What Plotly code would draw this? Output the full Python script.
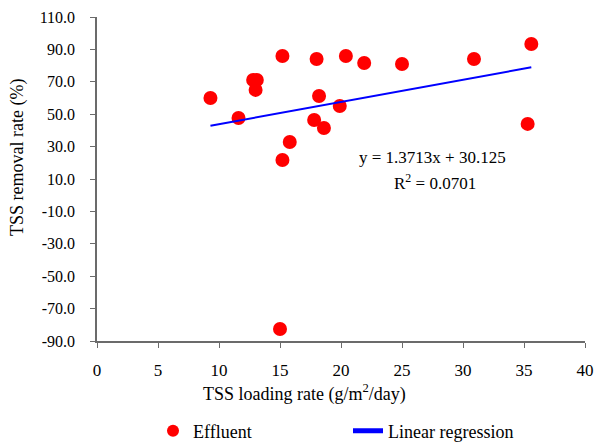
import plotly.graph_objects as go

# Data
loading_rate = [9.3, 11.6, 12.8, 13.1, 13.0, 15.2, 15.8, 15.2, 15.0, 18.0,
                18.2, 17.8, 18.6, 19.9, 20.4, 21.9, 25.0, 30.9, 35.6, 35.3]
removal_rate = [60.0, 47.7, 71.1, 71.1, 65.0, 85.9, 32.8, 21.7, -82.6, 84.1,
                61.2, 46.4, 41.5, 55.1, 85.9, 81.6, 81.0, 84.1, 93.3, 44.0]
slope = 1.3713
intercept = 30.125
r_squared = 0.0701
x_ticks = [0, 5, 10, 15, 20, 25, 30, 35, 40]
y_ticks = [-90, -70, -50, -30, -10, 10, 30, 50, 70, 90, 110]

x_fit = [min(loading_rate), max(loading_rate)]
y_fit = [slope * x + intercept for x in x_fit]

FONT = "Liberation Serif"
AXIS_COLOR = "#6b6b6b"

fig = go.Figure()
fig.add_trace(go.Scatter(
    x=loading_rate, y=removal_rate, mode="markers", name="Effluent",
    marker=dict(color="#FF0000", size=14),
))
fig.add_trace(go.Scatter(
    x=x_fit, y=y_fit, mode="lines", name="Linear regression",
    line=dict(color="#0000FF", width=2),
))

fig.update_layout(
    width=594, height=442,
    margin=dict(l=97, r=9, t=17, b=101, autoexpand=False),
    paper_bgcolor="white", plot_bgcolor="white",
    font=dict(family=FONT, size=16, color="black"),
    showlegend=True,
    legend=dict(
        orientation="h", xref="container", x=153 / 594, xanchor="left",
        yref="container", y=(442 - 431) / 442, yanchor="middle",
        entrywidth=150, entrywidthmode="pixels",
        font=dict(family=FONT, size=18), bgcolor="rgba(0,0,0,0)",
        itemsizing="constant",
    ),
    xaxis=dict(
        range=[0, 40], tickvals=x_ticks, ticktext=[str(v) for v in x_ticks],
        showgrid=False, zeroline=False, showline=True, linecolor=AXIS_COLOR,
        linewidth=1.5, ticks="outside", ticklen=5, tickcolor=AXIS_COLOR,
        tickfont=dict(family=FONT, size=17), ticklabelstandoff=8,
    ),
    yaxis=dict(
        range=[-90, 110], tickvals=y_ticks, ticktext=[f"{v:.1f}" for v in y_ticks],
        showgrid=False, zeroline=False, showline=True, linecolor=AXIS_COLOR,
        linewidth=1.5, ticks="outside", ticklen=5, tickcolor=AXIS_COLOR,
        tickfont=dict(family=FONT, size=16), ticklabelstandoff=12,
    ),
    annotations=[
        dict(text="TSS loading rate (g/m<sup>2</sup>/day)", xref="paper", yref="paper",
             x=(304 - 97) / 488, y=(341 - 393) / 324, showarrow=False,
             xanchor="center", yanchor="middle", font=dict(family=FONT, size=18)),
        dict(text="TSS removal rate (%)", xref="paper", yref="paper",
             x=(17 - 97) / 488, y=(341 - 158) / 324, showarrow=False, textangle=-90,
             xanchor="center", yanchor="middle", font=dict(family=FONT, size=18)),
        dict(text=f"y = {slope}x + {intercept}", xref="paper", yref="paper",
             x=(432 - 97) / 488, y=(341 - 157) / 324, showarrow=False,
             xanchor="center", yanchor="middle", font=dict(family=FONT, size=17)),
        dict(text=f"R<sup>2</sup> = {r_squared}", xref="paper", yref="paper",
             x=(435 - 97) / 488, y=(341 - 182) / 324, showarrow=False,
             xanchor="center", yanchor="middle", font=dict(family=FONT, size=17)),
    ],
)

fig.write_html("out.html")
